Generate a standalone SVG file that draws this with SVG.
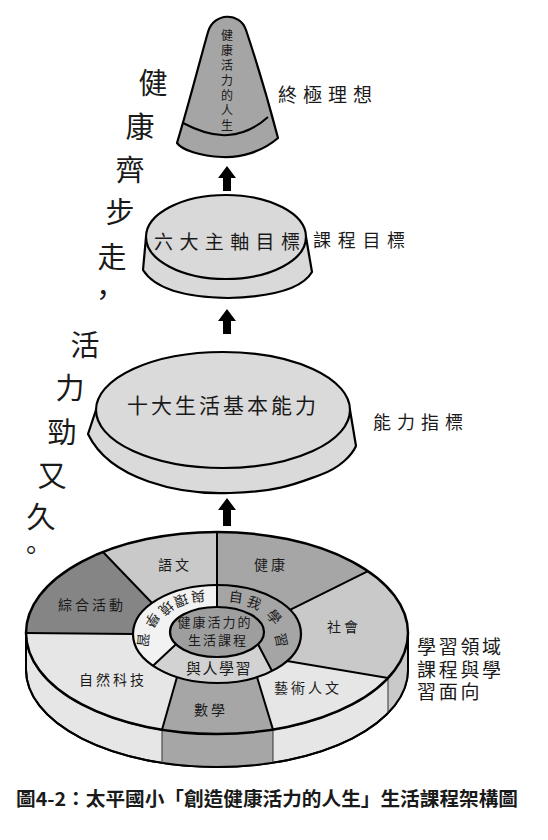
<svg xmlns="http://www.w3.org/2000/svg" width="548" height="840" viewBox="0 0 548 840">
<style>
.t{font-family:"Noto Sans CJK TC","Noto Sans CJK SC",sans-serif;fill:#1a1a1a}
.ol{stroke:#000;stroke-width:2.2;stroke-linejoin:round}
.dv{stroke:#000;stroke-width:2;fill:none}
.sd{stroke:#333;stroke-width:1;fill:none}
.arr{fill:#000}
</style>
<rect width="548" height="840" fill="#fff"/>

<!-- slogan -->
<g id="slogan">
<text class="t" font-size="29" text-anchor="middle"><tspan x="153" y="94">健</tspan><tspan x="140" y="138">康</tspan><tspan x="130" y="181">齊</tspan><tspan x="120" y="223">步</tspan><tspan x="112" y="268">走</tspan><tspan x="103" y="306">，</tspan><tspan x="85" y="356">活</tspan><tspan x="70" y="399">力</tspan><tspan x="62" y="443">勁</tspan><tspan x="52" y="487">又</tspan><tspan x="41" y="528">久</tspan><tspan x="31" y="560" font-size="26">。</tspan></text>
</g>

<!-- top cone -->
<g id="goal">
<path class="ol" fill="#a5a5a5" d="M177,143 C190,100 200,60 208,32 C214,12 240,12 246,30 C256,60 268,100 278,138 C262,152 240,158 222,157 C200,156 182,150 177,143 Z"/>
<path class="dv" d="M183,123 C200,132 215,136 228,135 C245,134 258,126 268,117"/>
<text class="t" font-size="12" text-anchor="middle"><tspan x="227" y="40">健</tspan><tspan x="227" y="55">康</tspan><tspan x="227" y="70">活</tspan><tspan x="227" y="85">力</tspan><tspan x="227" y="100">的</tspan><tspan x="227" y="115">人</tspan><tspan x="227" y="130">生</tspan></text>
<text class="t" x="278" y="102" font-size="19" letter-spacing="6">終極理想</text>
</g>

<!-- six axes disc -->
<g id="axes">
<path class="ol" fill="#d9d9d9" d="M146,237 L143,270 Q160,297 228,298 Q298,296 312,272 L306,237 Z"/>
<ellipse class="ol" cx="226" cy="237" rx="80" ry="42" fill="#d9d9d9"/>
<text class="t" x="154" y="249" font-size="19" letter-spacing="6.4">六大主軸目標</text>
<text class="t" x="313" y="247" font-size="18" letter-spacing="6.7">課程目標</text>
</g>

<!-- ten abilities disc -->
<g id="abilities">
<path class="ol" fill="#dadada" d="M96,410 L88,434 C110,480 180,495 230,493 C280,492 300,482 320,475 C340,468 352,455 356,446 L350,410 Z"/>
<ellipse class="ol" cx="223" cy="410" rx="127" ry="58" fill="#dadada"/>
<text class="t" x="127" y="413" font-size="21" letter-spacing="3">十大生活基本能力</text>
<text class="t" x="373" y="429" font-size="18" letter-spacing="6">能力指標</text>
</g>

<!-- connectors -->
<g id="connectors">
<path class="arr" d="M227,166 L236,178 L231,178 L231,191 L223,191 L223,178 L218,178 Z"/>
<path class="arr" d="M227,309 L236,321 L231,321 L231,334 L223,334 L223,321 L218,321 Z"/>
<path class="arr" d="M227,498 L236,510 L231,510 L231,526 L223,526 L223,510 L218,510 Z"/>
</g>

<!-- learning areas disc -->
<g id="areas">
<path fill="#e6e6e6" stroke="#000" stroke-width="2" d="M26,633 L26,670 A191,97 0 0 0 408,670 L408,633 A191,101 0 0 1 26,633 Z"/>
<path fill="#a6a6a6" d="M162,729.7 L162,762.9 A191,97 0 0 0 273,762.7 L273,729.6 A191,101 0 0 1 162,729.7 Z"/>
<path fill="#c9c9c9" d="M388,678 L388,713.2 A191,97 0 0 0 408,670 L408,633 A191,101 0 0 1 388,678 Z"/>
<path fill="none" stroke="#000" stroke-width="2" d="M26,633 L26,670 A191,97 0 0 0 408,670 L408,633"/>
<path class="sd" d="M162,729.7 L162,762.9 M273,729.6 L273,762.7 M388,678 L388,713.2"/>

<g id="seg-health"><path fill="#a6a6a6" d="M217,532 A191,101 0 0 1 368,571.2 L290,609.8 A84,49 0 0 0 217,585 Z"/></g>
<g id="seg-social"><path fill="#c9c9c9" d="M368,571.2 A191,101 0 0 1 388,678 L287,661 A84,49 0 0 0 290,609.8 Z"/></g>
<g id="seg-arts"><path fill="#e6e6e6" d="M388,678 A191,101 0 0 1 273,729.6 L257,677 A84,49 0 0 0 287,661 Z"/></g>
<g id="seg-math"><path fill="#a6a6a6" d="M273,729.6 A191,101 0 0 1 162,729.7 L177,677 A84,49 0 0 0 257,677 Z"/></g>
<g id="seg-science"><path fill="#e6e6e6" d="M162,729.7 A191,101 0 0 1 26,633 L133,634 A84,49 0 0 0 177,677 Z"/></g>
<g id="seg-integrated"><path fill="#858585" d="M26,633 A191,101 0 0 1 103,552 L152,603 A84,49 0 0 0 133,634 Z"/></g>
<g id="seg-language"><path fill="#c9c9c9" d="M103,552 A191,101 0 0 1 217,532 L217,585 A84,49 0 0 0 152,603 Z"/></g>

<path class="dv" d="M217,532 L217,607 M368,571.2 L290,609.8 M388,678 L287,661 M273,729.6 L257,677 M162,729.7 L177,677 M26,633 L133,634 M103,552 L152,603"/>
<ellipse cx="217" cy="633" rx="191" ry="101" fill="none" stroke="#000" stroke-width="2.5"/>

<g id="ring-self"><path fill="#a5a5a5" d="M217,585 A84,49 0 0 1 272,671 L258,644.2 A47,25 0 0 0 217,607 Z"/></g>
<g id="ring-others"><path fill="#d2d2d2" d="M272,671 A84,49 0 0 1 153,665.8 L176,644.2 A47,25 0 0 0 258,644.2 Z"/></g>
<g id="ring-env"><path fill="#f2f2f2" d="M153,665.8 A84,49 0 0 1 217,585 L217,607 A47,25 0 0 0 176,644.2 Z"/></g>
<path class="dv" d="M217,585 L217,607 M272,671 L258,644.2 M153,665.8 L176,644.2"/>
<ellipse cx="217" cy="634" rx="84" ry="49" fill="none" stroke="#000" stroke-width="2.2"/>
<g id="core"><ellipse cx="217" cy="632" rx="47" ry="25" fill="#9e9e9e" stroke="#000" stroke-width="2.2"/>
<text class="t" font-size="13" letter-spacing="2" text-anchor="middle"><tspan x="215" y="627">健康活力的</tspan><tspan x="218" y="645">生活課程</tspan></text>
</g>

<g class="t" font-size="14" text-anchor="middle">
<text transform="translate(236,597) rotate(8)" y="5">自</text>
<text transform="translate(254,603) rotate(22)" y="5">我</text>
<text transform="translate(274,617) rotate(48)" y="5">學</text>
<text transform="translate(281,640) rotate(78)" y="5">習</text>
<text transform="translate(198,596) rotate(175)" y="5">與</text>
<text transform="translate(181,600) rotate(160)" y="5">環</text>
<text transform="translate(166,608) rotate(140)" y="5">境</text>
<text transform="translate(152,620) rotate(120)" y="5">學</text>
<text transform="translate(143,640) rotate(95)" y="5">習</text>
</g>
<text class="t" x="219" y="674" font-size="15" letter-spacing="1.5" text-anchor="middle">與人學習</text>

<g class="t" font-size="14" letter-spacing="3" text-anchor="middle">
<text x="175" y="570">語文</text>
<text x="271" y="570">健康</text>
<text x="92" y="610">綜合活動</text>
<text x="113" y="685">自然科技</text>
<text x="211" y="715">數學</text>
<text x="344" y="632">社會</text>
<text x="308" y="693">藝術人文</text>
</g>
<text class="t" font-size="19" letter-spacing="2.7"><tspan x="417" y="654">學習領域</tspan><tspan x="417" y="677">課程與學</tspan><tspan x="417" y="699">習面向</tspan></text>
</g>

<text id="caption" class="t" x="16" y="806" font-size="19" font-weight="bold" textLength="502" lengthAdjust="spacingAndGlyphs">圖4-2：太平國小「創造健康活力的人生」生活課程架構圖</text>
</svg>
